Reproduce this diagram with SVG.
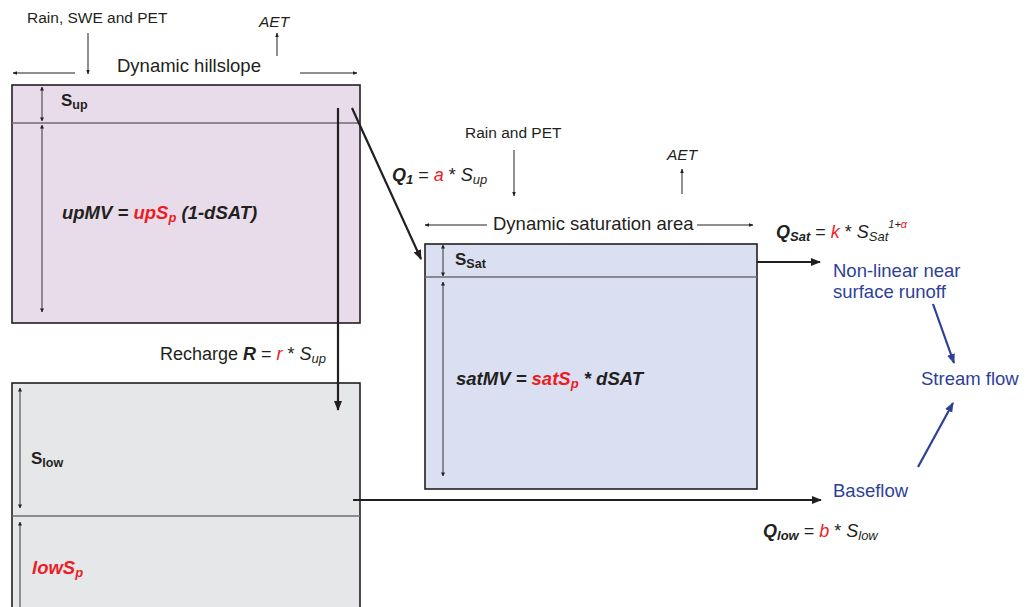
<svg xmlns="http://www.w3.org/2000/svg" width="1032" height="607" viewBox="0 0 1032 607">
<defs>
<style>
text{font-family:"Liberation Sans",Arial,sans-serif;fill:#231f20}
.t{font-size:15.5px}
.b{font-weight:bold;font-style:italic}
.i{font-style:italic}
.r{fill:#ed1c24}
.blue{fill:#2e3f98;font-size:18.5px}
.box{stroke:#231f20;stroke-width:1.6}
.div{stroke:#6d6e71;stroke-width:1.5}
.dim{stroke:#231f20;stroke-width:0.9;fill:none}
.thin{stroke:#231f20;stroke-width:1;fill:none}
.thick{stroke:#231f20;stroke-width:2.2;fill:none}
.bl{stroke:#2e3f98;stroke-width:2.2;fill:none}
</style>
<marker id="ms" viewBox="0 0 10 10" refX="9" refY="5" markerWidth="4" markerHeight="4" orient="auto-start-reverse" markerUnits="userSpaceOnUse"><path d="M0,0L10,5L0,10z" fill="#231f20"/></marker>
<marker id="mt" viewBox="0 0 10 10" refX="9" refY="5" markerWidth="4.5" markerHeight="4.5" orient="auto-start-reverse" markerUnits="userSpaceOnUse"><path d="M0,1L10,5L0,9z" fill="#231f20"/></marker>
<marker id="mk" viewBox="0 0 10 10" refX="9" refY="5" markerWidth="10" markerHeight="10" orient="auto" markerUnits="userSpaceOnUse"><path d="M0,1L10,5L0,9z" fill="#231f20"/></marker>
<marker id="mb" viewBox="0 0 10 10" refX="9" refY="5" markerWidth="10" markerHeight="10" orient="auto" markerUnits="userSpaceOnUse"><path d="M0,1L10,5L0,9z" fill="#2e3f98"/></marker>
</defs>

<g id="hillslope">
<rect class="box" x="12" y="85" width="348" height="238" fill="#e8dcea"/>
<line class="div" x1="12" y1="123" x2="360" y2="123"/>
<line class="dim" x1="42" y1="87" x2="42" y2="121" marker-start="url(#ms)" marker-end="url(#ms)"/>
<line class="dim" x1="42" y1="125" x2="42" y2="312" marker-start="url(#ms)" marker-end="url(#ms)"/>
<text x="61" y="106" font-size="17" font-weight="bold">S<tspan font-size="12.5" dy="3">up</tspan></text>
<text x="62" y="219" class="b" font-size="18.5">upMV = <tspan class="r">upS<tspan font-size="13" dy="3">p</tspan></tspan><tspan dy="-3"> (1-dSAT)</tspan></text>
</g>

<g id="lowstore">
<rect class="box" x="12" y="383" width="348" height="230" fill="#e6e7e9"/>
<line class="div" x1="12" y1="516" x2="360" y2="516"/>
<line class="dim" x1="20" y1="388" x2="20" y2="508" marker-start="url(#ms)" marker-end="url(#ms)"/>
<line class="dim" x1="20" y1="522" x2="20" y2="610" marker-start="url(#ms)"/>
<text x="31" y="464" font-size="17" font-weight="bold">S<tspan font-size="12.5" dy="3">low</tspan></text>
<text x="32" y="574" class="b r" font-size="18.5">lowS<tspan font-size="13" dy="3">p</tspan></text>
</g>

<g id="satarea">
<rect class="box" x="425" y="244" width="332" height="245" fill="#dae0f1"/>
<line class="div" x1="425" y1="277" x2="757" y2="277"/>
<line class="dim" x1="443" y1="245" x2="443" y2="276" marker-start="url(#ms)" marker-end="url(#ms)"/>
<line class="dim" x1="443" y1="282" x2="443" y2="476" marker-start="url(#ms)" marker-end="url(#ms)"/>
<text x="455" y="265" font-size="17" font-weight="bold">S<tspan font-size="12.5" dy="3">Sat</tspan></text>
<text x="456" y="385" class="b" font-size="18.5">satMV = <tspan class="r">satS<tspan font-size="13" dy="3">p</tspan></tspan><tspan dy="-3"> * dSAT</tspan></text>
</g>

<g id="labels">
<text x="27" y="23" class="t">Rain, SWE and PET</text>
<text x="259" y="27" class="t i">AET</text>
<text x="117" y="72" font-size="18.5">Dynamic hillslope</text>
<text x="465" y="138" class="t">Rain and PET</text>
<text x="667" y="160" class="t i">AET</text>
<text x="493" y="230" font-size="18.5">Dynamic saturation area</text>
<text x="392" y="181" font-size="18"><tspan class="b">Q<tspan font-size="13" dy="3">1</tspan></tspan><tspan dy="-3"> = </tspan><tspan class="r i">a</tspan> * <tspan class="i">S<tspan font-size="13" dy="3">up</tspan></tspan></text>
<text x="160" y="360" font-size="18">Recharge <tspan class="b">R</tspan> = <tspan class="r i">r</tspan> * <tspan class="i">S<tspan font-size="13" dy="3">up</tspan></tspan></text>
<text x="776" y="238" font-size="18"><tspan class="b">Q<tspan font-size="13" dy="3">Sat</tspan></tspan><tspan dy="-3"> = </tspan><tspan class="r i">k</tspan> * <tspan class="i">S<tspan font-size="13" dy="3">Sat</tspan><tspan font-size="11" dy="-13">1+</tspan><tspan font-size="11" class="r">α</tspan></tspan></text>
<text x="763" y="537" font-size="18"><tspan class="b">Q<tspan font-size="13" dy="3">low</tspan></tspan><tspan dy="-3"> = </tspan><tspan class="r i">b</tspan> * <tspan class="i">S<tspan font-size="13" dy="3">low</tspan></tspan></text>
<text x="833" y="277" class="blue">Non-linear near</text>
<text x="833" y="298" class="blue">surface runoff</text>
<text x="921" y="385" class="blue">Stream flow</text>
<text x="833" y="497" class="blue">Baseflow</text>
</g>

<g id="connectors">
<line class="thin" x1="88" y1="33" x2="88" y2="74" marker-end="url(#mt)"/>
<line class="thin" x1="277" y1="56" x2="277" y2="33" marker-end="url(#mt)"/>
<line class="thin" x1="75" y1="73" x2="13" y2="73" marker-end="url(#mt)"/>
<line class="thin" x1="300" y1="73" x2="357" y2="73" marker-end="url(#mt)"/>
<line class="thin" x1="514" y1="150" x2="514" y2="196" marker-end="url(#mt)"/>
<line class="thin" x1="682" y1="194" x2="682" y2="169" marker-end="url(#mt)"/>
<line class="thin" x1="487" y1="225" x2="425" y2="225" marker-end="url(#mt)"/>
<line class="thin" x1="697" y1="225" x2="753" y2="225" marker-end="url(#mt)"/>
<line class="thick" x1="352" y1="108" x2="421" y2="259" marker-end="url(#mk)"/>
<line class="thick" x1="338" y1="108" x2="338" y2="410" marker-end="url(#mk)"/>
<line class="thick" x1="757" y1="262" x2="820" y2="262" marker-end="url(#mk)"/>
<line class="thick" x1="353" y1="500" x2="821" y2="500" marker-end="url(#mk)"/>
<line class="bl" x1="933" y1="304" x2="954" y2="363" marker-end="url(#mb)"/>
<line class="bl" x1="918" y1="467" x2="953" y2="403" marker-end="url(#mb)"/>
</g>
</svg>
